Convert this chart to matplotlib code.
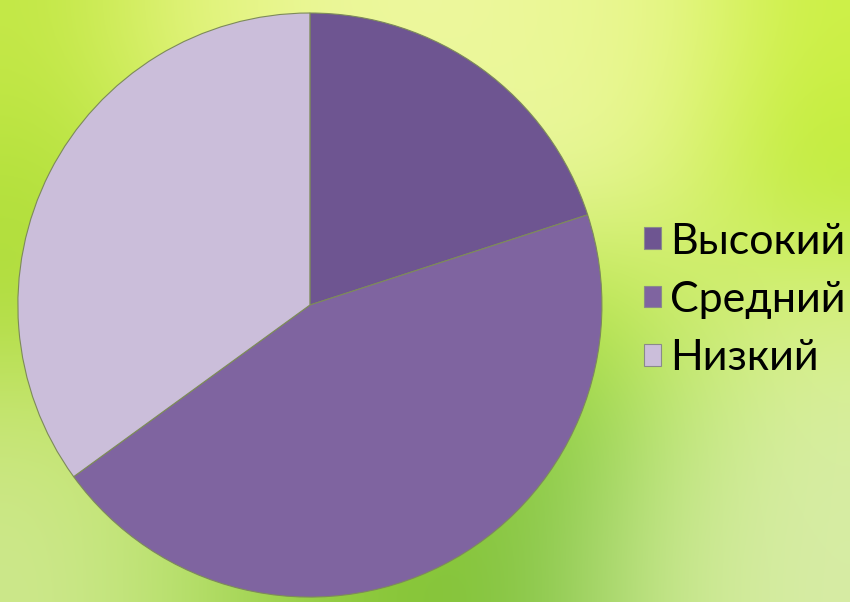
import numpy as np
import matplotlib
matplotlib.use("Agg")
import matplotlib.pyplot as plt
from matplotlib.patches import Patch

# данные диаграммы
labels = ["Высокий", "Средний", "Низкий"]
values = [20, 45, 35]
colors = ["#6E5591", "#7F64A0", "#CBBEDA"]

# фон: размытый зелёный градиент
bg = np.array([
    [(195, 232, 70), (225, 243, 120), (235, 247, 150), (238, 248, 160), (235, 248, 150), (232, 246, 140), (205, 240, 70)],
    [(180, 225, 60), (200, 235, 90), (220, 240, 130), (225, 242, 140), (235, 247, 165), (225, 244, 130), (190, 235, 55)],
    [(175, 220, 60), (190, 228, 80), (200, 232, 100), (205, 235, 110), (180, 228, 60), (200, 235, 100), (215, 240, 130)],
    [(200, 230, 120), (190, 228, 100), (170, 215, 80), (160, 210, 70), (130, 200, 60), (190, 230, 120), (215, 238, 160)],
    [(205, 232, 140), (185, 225, 110), (150, 205, 70), (130, 195, 50), (140, 200, 80), (200, 232, 140), (215, 236, 165)],
]) / 255.0

fig = plt.figure(figsize=(8.5, 6.02), dpi=100)
bg_ax = fig.add_axes([0, 0, 1, 1], zorder=0)
bg_ax.imshow(bg, aspect="auto", interpolation="bicubic", extent=[0, 1, 0, 1])
bg_ax.axis("off")

ax = fig.add_axes([0.0176, 0.0033, 0.694, 0.980], zorder=1)
wedges, _ = ax.pie(values, colors=colors, startangle=90, counterclock=False,
                   wedgeprops=dict(edgecolor="#7d8a5a", linewidth=0.8))
ax.set_xlim(-1.01, 1.01)
ax.set_ylim(-1.01, 1.01)
ax.set_aspect("equal")
ax.axis("off")

handles = [Patch(facecolor=c, edgecolor="#8a8a8a", linewidth=0.8) for c in colors]
fig.legend(handles, labels, loc="center left", bbox_to_anchor=(644 / 850, 1 - 300 / 602),
           frameon=False, handlelength=0.4, handleheight=0.4,
           handletextpad=0.2, labelspacing=0.47, borderpad=0, borderaxespad=0,
           prop={"family": "Lato", "size": 31})

fig.savefig("out.png", dpi=100)
